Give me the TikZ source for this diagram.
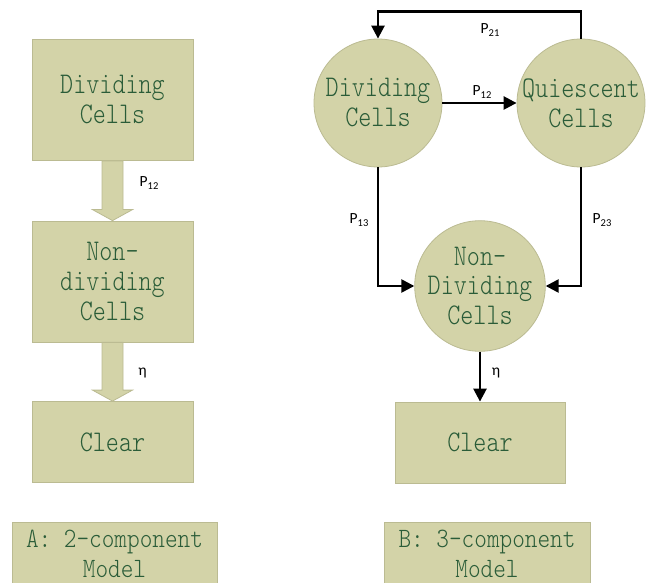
\documentclass[tikz,border=0pt]{standalone}
\usepackage{fontspec}
\usetikzlibrary{arrows.meta,calc}
\newfontfamily\cellfont{lmmonolt10-regular}[Extension=.otf, FakeStretch=0.83]
\newfontfamily\labelboxfont{lmmonolt10-regular}[Extension=.otf, FakeStretch=0.86]
\newfontfamily\labfont{Carlito}
\definecolor{khaki}{HTML}{D3D3A8}
\definecolor{khakiedge}{HTML}{BBBB92}
\definecolor{celltext}{HTML}{2A5C38}
\newcommand{\sublab}[2]{{\labfont\fontsize{15.5}{16}\selectfont #1\raisebox{-3pt}{\fontsize{10.5}{11}\selectfont #2}}}
\begin{document}
\begin{tikzpicture}[x=1pt,y=-1pt,
  cellbox/.style={draw=khakiedge, fill=khaki, line width=0.8pt, inner sep=0pt,
    text=celltext, font=\cellfont\fontsize{30}{30}\selectfont, align=center},
  cellcirc/.style={cellbox, circle, minimum size=128},
  labelbox/.style={cellbox, font=\labelboxfont\fontsize{28}{30}\selectfont},
  blockarrow/.style={draw=khakiedge, fill=khaki, line width=0.8pt, line join=miter},
  conn/.style={draw=black, line width=2.5pt, -{Triangle[length=13pt,width=13pt]}},
  lab/.style={inner sep=0pt, font=\labfont\fontsize{15.5}{16}\selectfont}
]
\fill[white] (0,0) rectangle (649,583);
\useasboundingbox (0,0) rectangle (649,583);

% ---- A: 2-component model
\node[cellbox, minimum width=161, minimum height=121] (a1) at (112.5,100) {Dividing\\Cells};
\node[cellbox, minimum width=161, minimum height=121] (a2) at (112.5,281.5) {Non-\\dividing\\Cells};
\node[cellbox, minimum width=161, minimum height=81] (a3) at (112.5,442) {Clear};
\node[labelbox, minimum width=205, minimum height=63] (la) at (114.5,553.5) {A: 2-component\\Model};

\path[blockarrow] ([xshift=-10.5pt]a1.south) -- ([xshift=-10.5pt,yshift=11pt]a2.north)
  -- ([xshift=-20pt,yshift=11pt]a2.north) -- (a2.north) -- ([xshift=20pt,yshift=11pt]a2.north)
  -- ([xshift=10.5pt,yshift=11pt]a2.north) -- ([xshift=10.5pt]a1.south) -- cycle;
\path[blockarrow] ([xshift=-10.5pt]a2.south) -- ([xshift=-10.5pt,yshift=11pt]a3.north)
  -- ([xshift=-20pt,yshift=11pt]a3.north) -- (a3.north) -- ([xshift=20pt,yshift=11pt]a3.north)
  -- ([xshift=10.5pt,yshift=11pt]a3.north) -- ([xshift=10.5pt]a2.south) -- cycle;

\node[lab] (pa12) at (149,183) {\sublab{P}{12}};
\node[lab] (etaa) at (142.5,373) {η};

% ---- B: 3-component model
\node[cellcirc] (b1) at (378,103) {Dividing\\Cells};
\node[cellcirc] (b2) at (581,103) {Quiescent\\Cells};
\node[cellcirc] (b3) at (480,286) {Non-\\Dividing\\Cells};
\node[cellbox, minimum width=170, minimum height=81] (b4) at (480,442.5) {Clear};
\node[labelbox, minimum width=206, minimum height=63] (lb) at (487,553.5) {B: 3-component\\Model};

\draw[conn] (b1.east) -- (b2.west);
\draw[conn] (b2.north) -- ++(0,-27) -| (b1.north);
\draw[conn] (b1.south) |- (b3.west);
\draw[conn] (b2.south) |- (b3.east);
\draw[conn] (b3.south) -- (b4.north);

\node[lab] (pb12) at (482,92) {\sublab{P}{12}};
\node[lab] (pb21) at (490,30) {\sublab{P}{21}};
\node[lab] (pb13) at (359,220) {\sublab{P}{13}};
\node[lab] (pb23) at (602,220) {\sublab{P}{23}};
\node[lab] (etab) at (496,373) {η};
\end{tikzpicture}
\end{document}
